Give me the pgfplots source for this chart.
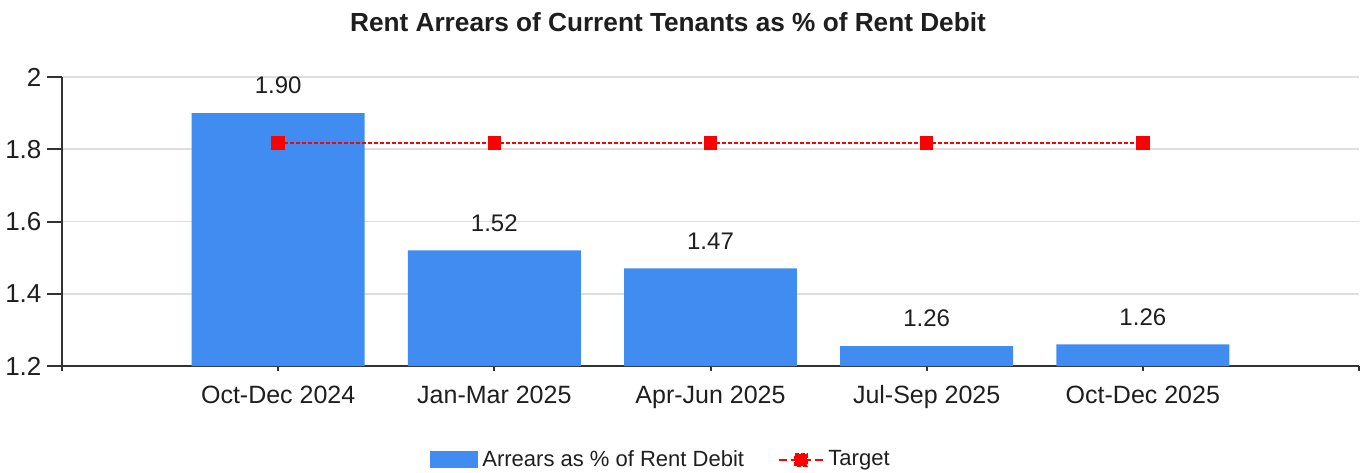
\documentclass[border=0pt]{standalone}
\usepackage{pgfplots}
\pgfplotsset{compat=1.18}
\usepackage{fontspec}
\setmainfont{Liberation Sans}
\definecolor{barblue}{RGB}{65,140,240}
\definecolor{axisgray}{RGB}{50,50,50}
\definecolor{gridgray}{RGB}{222,222,222}
\definecolor{txt}{RGB}{30,30,30}
\pgfplotsset{
  tlegend/.style={legend image code/.code={\draw[red, line width=1.2pt, dash pattern=on 4pt off 2pt] (0pt,0pt) -- (22pt,0pt);
    \fill[red] (8pt,-3pt) rectangle (14pt,3pt);}},
  blegend/.style={legend image code/.code={\fill[barblue] (0pt,-4.25pt) rectangle (24pt,4.25pt);}},
}
\begin{document}
\begin{tikzpicture}
\useasboundingbox (-31pt,-53pt) rectangle (650.5pt,183pt);
\begin{axis}[
  scale only axis, width=648.5pt, height=144.5pt,
  xmin=-1, xmax=5, ymin=1.2, ymax=2,
  axis x line*=bottom, axis y line*=left,
  xtick={-1,0,1,2,3,4,5},
  xticklabels={,Oct-Dec 2024,Jan-Mar 2025,Apr-Jun 2025,Jul-Sep 2025,Oct-Dec 2025,},
  ytick={1.2,1.4,1.6,1.8,2},
  yticklabels={1.2,1.4,1.6,1.8,2},
  ymajorgrids, grid style={gridgray, line width=0.8pt},
  tick align=outside,
  xtick style={axisgray, line width=1pt, /pgfplots/major tick length=2.5pt},
  ytick style={axisgray, line width=1pt, /pgfplots/major tick length=7.5pt},
  axis line style={axisgray, line width=1pt},
  tick label style={font=\fontsize{12.5}{14}\selectfont, text=txt},
  x tick label style={yshift=-2pt},
  y tick label style={xshift=-2.5pt, font=\fontsize{13}{14}\selectfont},
  /pgf/number format/assume math mode=true,
  legend style={at={(0.4626,-0.325)}, anchor=center, draw=none, fill=none,
    font=\fontsize{11}{13}\selectfont, text=txt,
    /tikz/every even column/.append style={column sep=15pt}},
  legend columns=2,
]
\addplot[ybar, bar width=0.8, bar shift=0pt, fill=barblue, draw=none,
  nodes near coords, point meta=y,
  nodes near coords style={font=\fontsize{12}{14}\selectfont, text=txt, yshift=6pt,
    /pgf/number format/.cd, fixed, fixed zerofill, precision=2},
  blegend]
  coordinates {(0,1.90) (1,1.52) (2,1.47) (3,1.255) (4,1.26)};
\addlegendentry{Arrears as \% of Rent Debit}
\addplot[red, line width=0.8pt, dash pattern=on 2pt off 1pt, mark=square*, mark size=3pt,
  mark options={solid}, tlegend]
  coordinates {(0,1.818) (1,1.818) (2,1.818) (3,1.818) (4,1.818)};
\addlegendentry{Target}
\end{axis}
\node[font=\bfseries\fontsize{13.1}{15}\selectfont, text=txt] at (303pt,172pt) {Rent Arrears of Current Tenants as \% of Rent Debit};
\end{tikzpicture}
\end{document}
